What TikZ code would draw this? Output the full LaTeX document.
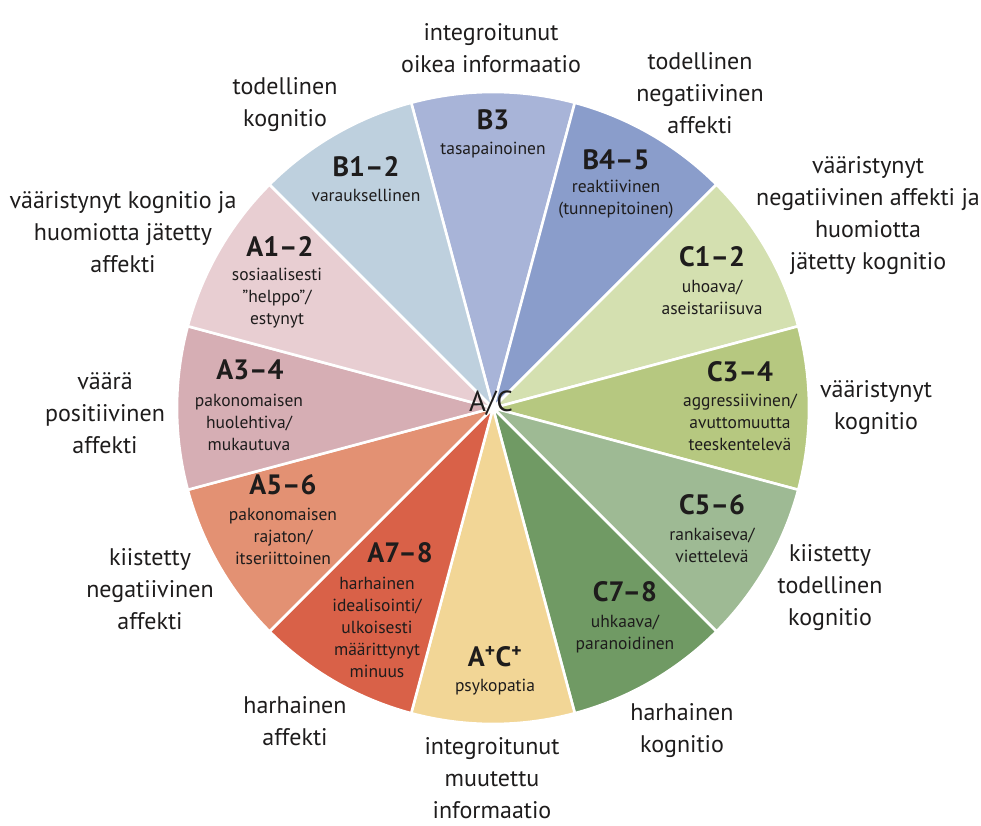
\documentclass[tikz,border=0pt]{standalone}
\usepackage{fontspec}
\setmainfont{PT Sans}
\usepackage{tikz}
\usepackage{xcolor}
\definecolor{wheelBa}{RGB}{190,208,222}
\definecolor{wheelBb}{RGB}{168,180,216}
\definecolor{wheelBc}{RGB}{138,157,203}
\definecolor{wheelCa}{RGB}{212,224,176}
\definecolor{wheelCb}{RGB}{182,200,128}
\definecolor{wheelCc}{RGB}{158,186,148}
\definecolor{wheelCd}{RGB}{112,154,100}
\definecolor{wheelAC}{RGB}{242,214,150}
\definecolor{wheelAd}{RGB}{217,97,72}
\definecolor{wheelAc}{RGB}{227,145,115}
\definecolor{wheelAb}{RGB}{214,174,180}
\definecolor{wheelAa}{RGB}{232,206,210}
\definecolor{inktext}{RGB}{30,28,28}

\tikzset{
  sector/.style={draw=white,line width=2.6pt,line join=round},
  codelabel/.style={font=\fontsize{28}{30}\selectfont\bfseries,text=inktext,inner sep=0pt},
  sublabel/.style={font=\fontsize{17.5}{22}\selectfont,text=inktext,align=center,inner sep=0pt},
  outerlabel/.style={font=\fontsize{24}{32}\selectfont,text=inktext,align=center,inner sep=0pt}
}

\begin{document}
\begin{tikzpicture}[x=1pt,y=1pt]
        \useasboundingbox (0,0) rectangle (981,825);

        % Wheel sectors
        \coordinate (hub) at (493,417);
        \foreach \a/\col in {75/wheelBb,45/wheelBc,15/wheelCa,-15/wheelCb,-45/wheelCc,-75/wheelCd,
                             -105/wheelAC,-135/wheelAd,-165/wheelAc,165/wheelAb,135/wheelAa,105/wheelBa}
            \filldraw[sector,fill=\col] (hub) -- ++(\a:316) arc[start angle=\a,delta angle=30,radius=316] -- cycle;

        % Centre
        \node[codelabel,font=\fontsize{29}{30}\selectfont] (centre) at (491,422) {A/C};

        % Inner labels
        \node[codelabel] (codeBa) at (366,658) {B1–2};
        \node[sublabel] (subBa) at (366,630) {varauksellinen};
        \node[codelabel] (codeBb) at (493,705) {B3};
        \node[sublabel] (subBb) at (493,675) {tasapainoinen};
        \node[codelabel] (codeBc) at (616,665) {B4–5};
        \node[sublabel] (subBc) at (616,626) {reaktiivinen\\(tunnepitoinen)};
        \node[codelabel] (codeCa) at (712,568) {C1–2};
        \node[sublabel] (subCa) at (712,528) {uhoava/\\aseistariisuva};
        \node[codelabel] (codeCb) at (740,453) {C3–4};
        \node[sublabel] (subCb) at (740,403) {aggressiivinen/\\avuttomuutta\\teeskentelevä};
        \node[codelabel] (codeCc) at (712,320) {C5–6};
        \node[sublabel] (subCc) at (712,280) {rankaiseva/\\viettelevä};
        \node[codelabel] (codeCd) at (625,233) {C7–8};
        \node[sublabel] (subCd) at (625,191) {uhkaava/\\paranoidinen};
        \node[codelabel] (codeAC) at (495,168) {A\textsuperscript{+}C\textsuperscript{+}};
        \node[sublabel] (subAC) at (495,138) {psykopatia};
        \node[codelabel] (codeAd) at (400,272) {A7–8};
        \node[sublabel] (subAd) at (377,198) {harhainen\\idealisointi/\\ulkoisesti\\määrittynyt\\minuus};
        \node[codelabel] (codeAc) at (283,340) {A5–6};
        \node[sublabel] (subAc) at (283,289) {pakonomaisen\\rajaton/\\itseriittoinen};
        \node[codelabel] (codeAb) at (250,455) {A3–4};
        \node[sublabel] (subAb) at (249,403) {pakonomaisen\\huolehtiva/\\mukautuva};
        \node[codelabel] (codeAa) at (280,578) {A1–2};
        \node[sublabel] (subAa) at (277,527) {sosiaalisesti\\”helppo”/\\estynyt};

        % Outer labels
        \node[outerlabel] (outBa) at (285,720) {todellinen\\kognitio};
        \node[outerlabel] (outBb) at (491,777) {integroitunut\\oikea informaatio};
        \node[outerlabel] (outBc) at (700,732) {todellinen\\negatiivinen\\affekti};
        \node[outerlabel] (outCa) at (868,609) {vääristynyt\\negatiivinen affekti ja\\huomiotta\\jätetty kognitio};
        \node[outerlabel] (outCb) at (876,417) {vääristynyt\\kognitio};
        \node[outerlabel] (outCc) at (830,237) {kiistetty\\todellinen\\kognitio};
        \node[outerlabel] (outCd) at (682,94) {harhainen\\kognitio};
        \node[outerlabel] (outAC) at (492,47) {integroitunut\\muutettu\\informaatio};
        \node[outerlabel] (outAd) at (295,104) {harhainen\\affekti};
        \node[outerlabel] (outAc) at (150,236) {kiistetty\\negatiivinen\\affekti};
        \node[outerlabel] (outAb) at (105,412) {väärä\\positiivinen\\affekti};
        \node[outerlabel] (outAa) at (123,593) {vääristynyt kognitio ja\\huomiotta jätetty\\affekti};
\end{tikzpicture}
\end{document}
